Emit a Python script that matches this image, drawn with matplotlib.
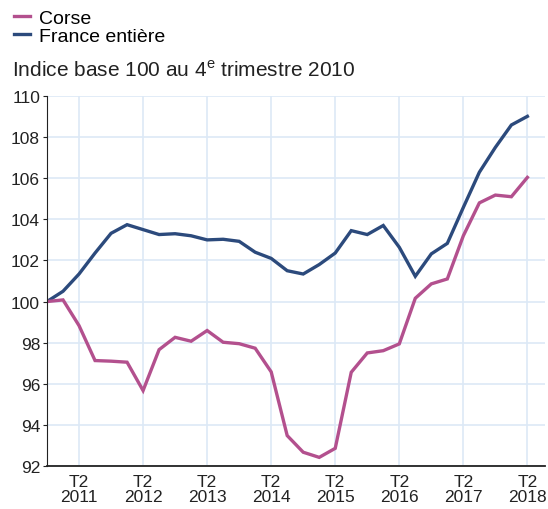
import matplotlib.pyplot as plt

plt.rcParams['font.family'] = ['Liberation Sans', 'DejaVu Sans']
plt.rcParams['mathtext.fontset'] = 'custom'
plt.rcParams['mathtext.rm'] = 'Liberation Sans'

# trimestres de 2010T4 a 2018T2
quarters = list(range(31))
corse = [100.0, 100.08, 98.83, 97.13, 97.1, 97.05, 95.67, 97.66, 98.26, 98.07,
         98.59, 98.02, 97.95, 97.73, 96.58, 93.48, 92.67, 92.42, 92.86, 96.56,
         97.5, 97.61, 97.94, 100.16, 100.86, 101.1, 103.2, 104.8, 105.18, 105.1,
         106.04]
france = [100.0, 100.5, 101.34, 102.36, 103.32, 103.74, 103.5, 103.26, 103.3, 103.2,
          103.0, 103.03, 102.93, 102.4, 102.1, 101.5, 101.34, 101.8, 102.36, 103.45,
          103.26, 103.7, 102.64, 101.23, 102.32, 102.83, 104.58, 106.29, 107.5, 108.59,
          109.01]
tick_pos = [2, 6, 10, 14, 18, 22, 26, 30]
tick_labels = ["T2\n2011", "T2\n2012", "T2\n2013", "T2\n2014",
               "T2\n2015", "T2\n2016", "T2\n2017", "T2\n2018"]

fig = plt.figure(figsize=(5.48, 5.10), dpi=100)
ax = fig.add_axes([47/548, 1-467/510, 498/548, 370/510])

l2, = ax.plot(quarters, france, color='#2c4a7c', lw=2.4, solid_joinstyle='miter')
l1, = ax.plot(quarters, corse, color='#b3508e', lw=2.4, solid_joinstyle='miter')

ax.set_xlim(0, 31.1)
ax.set_ylim(92, 110)
ax.set_yticks(range(92, 111, 2))
ax.set_xticks(tick_pos)
ax.set_xticklabels(tick_labels)
ax.grid(True, color='#dde9f6', lw=1.2)
ax.set_axisbelow(True)
for s in ['top', 'right']:
    ax.spines[s].set_visible(False)
ax.spines['left'].set_color('#222222')
ax.spines['bottom'].set_color('#222222')
ax.spines['bottom'].set_linewidth(1.3)
ax.tick_params(axis='y', length=3, labelsize=12.5, colors='#222222', pad=2)
ax.tick_params(axis='x', length=0, labelsize=12.5, colors='#222222', pad=6)
for t in ax.get_xticklabels():
    t.set_linespacing(1.0)

fig.legend([l1, l2], ["Corse", "France entière"], loc='upper left',
           bbox_to_anchor=(0.012, 0.995), frameon=False, fontsize=14,
           handlelength=0.8, handletextpad=0.45, labelspacing=0.0,
           borderaxespad=0)
fig.text(12/548, 1-70/510, "Indice base 100 au 4$^{\\mathrm{e}}$ trimestre 2010",
         fontsize=15, color='#222222', va='center', ha='left')

fig.savefig('out.png', dpi=100)
